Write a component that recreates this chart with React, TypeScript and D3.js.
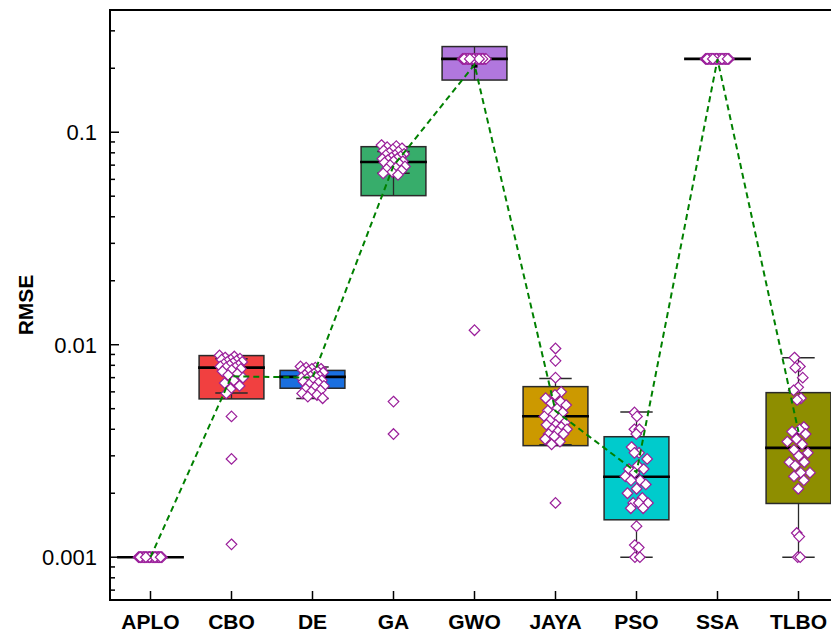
import { useEffect, useRef } from "react";
import * as d3 from "d3";

const categories = ["APLO", "CBO", "DE", "GA", "GWO", "JAYA", "PSO", "SSA", "TLBO"];
const fills = ["#515151", "#F14040", "#1A6FDF", "#37AD6B", "#B177DE", "#CC9900", "#00CBCC", "#7D4E4E", "#8E8E00"];

// box statistics
const q1 = [0.001, 0.00556, 0.00624, 0.0503, 0.176, 0.00335, 0.0015, 0.2213, 0.00179];
const medians = [0.001, 0.0078, 0.00706, 0.0724, 0.2213, 0.00461, 0.00239, 0.2213, 0.00327];
const q3 = [0.001, 0.00889, 0.00757, 0.0855, 0.253, 0.00635, 0.00369, 0.2213, 0.00595];
const whiskerLow = [0.001, 0.00592, 0.00559, 0.0641, 0.2213, 0.00338, 0.001, 0.2213, 0.001];
const whiskerHigh = [0.001, 0.0086, 0.00786, 0.0811, 0.2213, 0.00693, 0.00483, 0.2213, 0.00869];
const means = [0.001, 0.0071, 0.007, 0.0695, 0.208, 0.00488, 0.00251, 0.2205, 0.00389];

// individual runs
const aplo = [0.001, 0.001, 0.001, 0.001, 0.001, 0.001, 0.001, 0.001, 0.001, 0.001, 0.001, 0.001, 0.001, 0.001, 0.001,
  0.001, 0.001, 0.001, 0.001, 0.001, 0.001, 0.001, 0.001, 0.001, 0.001, 0.001, 0.001, 0.001, 0.001, 0.001];
const cbo = [0.0089, 0.0088, 0.0087, 0.0086, 0.0085, 0.0085, 0.0084, 0.0083, 0.0083, 0.0082, 0.0081, 0.008, 0.008, 0.0079, 0.0078,
  0.0078, 0.0077, 0.0076, 0.0075, 0.0073, 0.0072, 0.007, 0.0068, 0.0066, 0.0064, 0.0062, 0.0059, 0.0046, 0.0029, 0.00115];
const de = [0.0079, 0.0078, 0.0078, 0.0077, 0.0077, 0.0076, 0.0075, 0.0075, 0.0074, 0.0073, 0.0072, 0.0071, 0.0071, 0.007, 0.007,
  0.0069, 0.0068, 0.0068, 0.0067, 0.0066, 0.0065, 0.0064, 0.0063, 0.0062, 0.0061, 0.006, 0.0059, 0.0058, 0.0057, 0.0056];
const ga = [0.087, 0.086, 0.085, 0.084, 0.083, 0.082, 0.081, 0.08, 0.079, 0.078, 0.078, 0.077, 0.076, 0.075, 0.075,
  0.074, 0.073, 0.073, 0.072, 0.071, 0.07, 0.069, 0.068, 0.067, 0.066, 0.065, 0.064, 0.063, 0.0054, 0.0038];
const gwo = [0.2213, 0.2213, 0.2213, 0.2213, 0.2213, 0.2213, 0.2213, 0.2213, 0.2213, 0.2213, 0.2213, 0.2213, 0.2213, 0.2213, 0.2213,
  0.2213, 0.2213, 0.2213, 0.2213, 0.2213, 0.2213, 0.2213, 0.2213, 0.2213, 0.2213, 0.2213, 0.2213, 0.2213, 0.2213, 0.0117];
const jaya = [0.0096, 0.0084, 0.007, 0.006, 0.0058, 0.0056, 0.0054, 0.0053, 0.0052, 0.005, 0.0049, 0.0048, 0.0047, 0.0046, 0.0045,
  0.0044, 0.0043, 0.0042, 0.0042, 0.0041, 0.004, 0.004, 0.0039, 0.0038, 0.0038, 0.0037, 0.0036, 0.0035, 0.0034, 0.0018];
const pso = [0.0048, 0.0046, 0.004, 0.004, 0.0038, 0.0033, 0.0031, 0.0031, 0.0029, 0.0027, 0.0026, 0.0026, 0.0025, 0.0024, 0.0023,
  0.0023, 0.0022, 0.0021, 0.002, 0.0019, 0.0018, 0.0018, 0.0018, 0.0017, 0.0017, 0.0014, 0.00114, 0.00111, 0.001, 0.001];
const ssa = [0.2213, 0.2213, 0.2213, 0.2213, 0.2213, 0.2213, 0.2213, 0.2213, 0.2213, 0.2213, 0.2213, 0.2213, 0.2213, 0.2213, 0.2213,
  0.2213, 0.2213, 0.2213, 0.2213, 0.2213, 0.2213, 0.2213, 0.2213, 0.2213, 0.2213, 0.2213, 0.2213, 0.2213, 0.2213, 0.2213];
const tlbo = [0.0087, 0.0079, 0.0078, 0.007, 0.0063, 0.0061, 0.0056, 0.0055, 0.0041, 0.004, 0.0039, 0.0038, 0.0036, 0.0035, 0.0034,
  0.0032, 0.0031, 0.003, 0.0028, 0.0028, 0.0027, 0.0025, 0.0025, 0.0024, 0.0023, 0.0021, 0.0013, 0.00125, 0.001, 0.001];
const runs = [aplo, cbo, de, ga, gwo, jaya, pso, ssa, tlbo];

const W = 831, H = 634;
const font = "'Liberation Sans', Arial, sans-serif";

const App = () => {
  const svgRef = useRef<SVGSVGElement>(null);

  useEffect(() => {
    if (!svgRef.current) return;
    const svg = d3.select(svgRef.current);
    svg.selectAll("*").remove();

    const m = { left: 110, top: 10, bottom: 600, right: 839 };
    const x = d3.scalePoint<string>().domain(categories).range([m.left, m.right]).padding(0.5);
    const y = d3.scaleLog().domain([0.000629, 0.376]).range([m.bottom, m.top]);
    const bw = x.step() * 0.8;

    // boxes
    categories.forEach((c, i) => {
      const cx = x(c)!;
      const g = svg.append("g");
      const top = y(q3[i]), bot = y(q1[i]);
      if (bot - top > 0.5) {
        g.append("rect")
          .attr("x", cx - bw / 2).attr("y", top)
          .attr("width", bw).attr("height", bot - top)
          .attr("fill", fills[i]).attr("stroke", "#2a2a2a").attr("stroke-width", 1.5);
      }
      const stem = (a: number, b: number) =>
        g.append("line").attr("x1", cx).attr("x2", cx).attr("y1", y(a)).attr("y2", y(b))
          .attr("stroke", "#2a2a2a").attr("stroke-width", 1.3);
      const inside = whiskerHigh[i] <= q3[i] && whiskerLow[i] >= q1[i];
      if (inside) {
        if (q3[i] > q1[i]) stem(q1[i], q3[i]);
      } else {
        if (whiskerHigh[i] > q3[i]) stem(q3[i], whiskerHigh[i]);
        if (whiskerLow[i] < q1[i]) stem(whiskerLow[i], q1[i]);
      }
      [whiskerLow[i], whiskerHigh[i]].forEach((v) => {
        if (q3[i] === q1[i]) return;
        g.append("line").attr("x1", cx - bw / 4).attr("x2", cx + bw / 4)
          .attr("y1", y(v)).attr("y2", y(v))
          .attr("stroke", "#2a2a2a").attr("stroke-width", 1.5);
      });
      g.append("line").attr("x1", cx - bw / 2 - 1).attr("x2", cx + bw / 2 + 1)
        .attr("y1", y(medians[i])).attr("y2", y(medians[i]))
        .attr("stroke", "#000").attr("stroke-width", 2.6);
      g.append("rect")
        .attr("x", cx - 3).attr("y", y(means[i]) - 3)
        .attr("width", 6).attr("height", 6).attr("fill", "#000");
    });

    // jittered runs, spread wider where points are dense
    const diamond = "M0,-5.3L5.3,0L0,5.3L-5.3,0Z";
    categories.forEach((c, i) => {
      const cx = x(c)!;
      const ys = runs[i].map((d) => y(d));
      svg.append("g").selectAll("path")
        .data(runs[i])
        .join("path")
        .attr("d", diamond)
        .attr("transform", (d, j) => {
          const near = ys.filter((v) => Math.abs(v - ys[j]) < 12).length;
          const spread = Math.min(1, (near - 1) / 6);
          const off = (((j * 0.6180339887) % 1) - 0.5) * 24 * spread;
          return `translate(${cx + off},${ys[j]})`;
        })
        .attr("fill", "#fff")
        .attr("stroke", "#9a1e9a")
        .attr("stroke-width", 1.2);
    });

    // mean line
    const line = d3.line<number>()
      .x((_, i) => x(categories[i])!)
      .y((d) => y(d));
    svg.append("path")
      .datum(means)
      .attr("d", line)
      .attr("fill", "none")
      .attr("stroke", "#008000")
      .attr("stroke-width", 2)
      .attr("stroke-dasharray", "6,4");

    // axes frame
    const ax = svg.append("g").attr("stroke", "#000").attr("stroke-width", 2);
    ax.append("line").attr("x1", m.left).attr("x2", m.left).attr("y1", m.top).attr("y2", m.bottom + 1);
    ax.append("line").attr("x1", m.left - 1).attr("x2", W).attr("y1", m.bottom).attr("y2", m.bottom);
    ax.append("line").attr("x1", m.left - 1).attr("x2", W).attr("y1", m.top).attr("y2", m.top);

    y.ticks().forEach((t) => {
      const major = Math.abs(Math.log10(t) - Math.round(Math.log10(t))) < 1e-6;
      ax.append("line").attr("x1", m.left).attr("x2", m.left + (major ? 9 : 5))
        .attr("y1", y(t)).attr("y2", y(t)).attr("stroke-width", 1.5);
      if (major) {
        svg.append("text").attr("x", m.left - 13).attr("y", y(t)).attr("dy", "0.36em")
          .attr("text-anchor", "end").attr("font-family", font).attr("font-size", 22)
          .text(d3.format("~g")(t));
      }
    });

    categories.forEach((c) => {
      ax.append("line").attr("x1", x(c)!).attr("x2", x(c)!)
        .attr("y1", m.bottom).attr("y2", m.bottom - 9).attr("stroke-width", 1.5);
      svg.append("text").attr("x", x(c)!).attr("y", 629)
        .attr("text-anchor", "middle").attr("font-family", font).attr("font-size", 21)
        .attr("font-weight", "bold").text(c);
    });

    svg.append("text")
      .attr("transform", `translate(33,305) rotate(-90)`)
      .attr("text-anchor", "middle").attr("font-family", font).attr("font-size", 21)
      .attr("font-weight", "bold").text("RMSE");
  }, []);

  return <svg ref={svgRef} width={W} height={H} style={{ position: "absolute", left: 0, top: 0, background: "#fff" }} />;
};

export default App;
